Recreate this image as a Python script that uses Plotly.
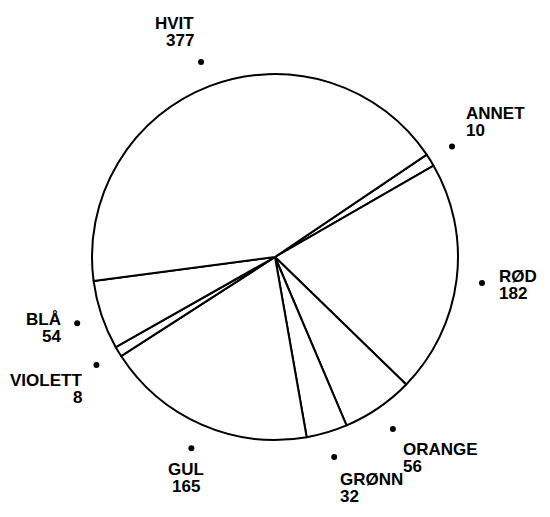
import math
import plotly.graph_objects as go

# Data (clockwise order starting after the HVIT slice)
labels = ["ANNET", "RØD", "ORANGE", "GRØNN", "GUL", "VIOLETT", "BLÅ", "HVIT"]
values = [10, 182, 56, 32, 165, 8, 54, 377]

# page body has an 8px margin, so the figure is drawn 8px in from the corner
W, H = 534, 501
CX, CY, R = 267, 249, 183  # pie centre / radius in figure pixels
START = 56  # degrees clockwise from 12 o'clock

fig = go.Figure()
fig.add_trace(go.Pie(
    labels=labels, values=values, sort=False, direction="clockwise",
    rotation=START, textinfo="none", hoverinfo="label+value",
    marker=dict(colors=["white"] * len(values), line=dict(color="black", width=2)),
    domain=dict(x=[(CX - R) / W, (CX + R) / W], y=[(H - CY - R) / H, (H - CY + R) / H]),
    showlegend=False,
))

# axis units: 1 = pie radius
xr = [-CX / R, (W - CX) / R]
yr = [-(H - CY) / R, CY / R]

total = sum(values)
cum = 0
dot_x, dot_y = [], []
annotations = []
font = dict(family="Liberation Sans, Arial, sans-serif", size=17, color="black", weight="bold")
pitch = 17 / R
block = 33 / R
for lab, v in zip(labels, values):
    mid = math.radians(START + (cum + v / 2) / total * 360)
    cum += v
    s, c = math.sin(mid), math.cos(mid)
    dot_x.append(1.14 * s)
    dot_y.append(1.14 * c)
    ax, ay = 1.22 * s, 1.22 * c
    if c < -0.9 and s < 0:
        xanchor = "center"
    else:
        xanchor = "left" if s > 0.2 else ("right" if s < -0.3 else "center")
    if c > 0.3:
        top = ay + block
    elif c < -0.4:
        top = ay
    else:
        top = ay + block / 2
    l1 = top - 8 / R
    l2 = l1 - pitch
    for txt, yy in ((lab, l1), (str(v), l2)):
        annotations.append(dict(x=ax, y=yy, xref="x", yref="y", text=txt, showarrow=False,
                                xanchor=xanchor, yanchor="middle", align="left", font=font))

fig.add_trace(go.Scatter(x=dot_x, y=dot_y, mode="markers",
                         marker=dict(color="black", size=6), hoverinfo="skip", showlegend=False))

fig.update_layout(
    width=W, height=H, margin=dict(l=0, r=0, t=0, b=0),
    paper_bgcolor="white", plot_bgcolor="rgba(0,0,0,0)",
    xaxis=dict(range=xr, visible=False, fixedrange=True),
    yaxis=dict(range=yr, visible=False, fixedrange=True),
    annotations=annotations,
)
fig.write_html("out.html")
